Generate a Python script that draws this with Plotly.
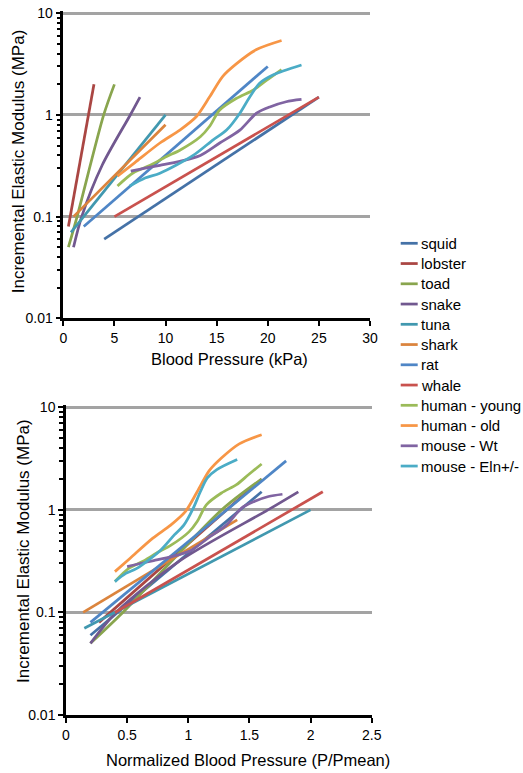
import plotly.graph_objects as go

# ---------------- data ----------------
series_names = ["squid", "lobster", "toad", "snake", "tuna", "shark", "rat", "whale",
                "human - young", "human - old", "mouse - Wt", "mouse - Eln+/-"]

squid_p = [4, 25]
squid_e = [0.06, 1.5]
lobster_p = [0.5, 3]
lobster_e = [0.08, 2.0]
toad_p = [0.5, 1.35, 3.95, 5]
toad_e = [0.05, 0.1, 1.0, 2.0]
snake_p = [1.0, 1.8, 3.8, 6.55, 7.5]
snake_e = [0.05, 0.1, 0.32, 1.0, 1.5]
tuna_p = [0.75, 10]
tuna_e = [0.07, 1.0]
shark_p = [1, 10]
shark_e = [0.1, 0.8]
rat_p = [2, 20]
rat_e = [0.08, 3.0]
whale_p = [5, 25]
whale_e = [0.1, 1.5]
human_young_p = [5.3, 6.85, 8.5, 10.1, 11.4, 13.4, 14.3, 15.3, 16.95, 18.6, 19.9, 21.35]
human_young_e = [0.2, 0.27, 0.32, 0.39, 0.45, 0.61, 0.77, 1.12, 1.46, 1.76, 2.2, 2.8]
human_old_p = [5.3, 7, 9.45, 11.4, 13.0, 14.3, 15.6, 16.95, 18.9, 21.35]
human_old_e = [0.25, 0.34, 0.53, 0.71, 0.96, 1.5, 2.4, 3.2, 4.4, 5.4]
mouse_wt_p = [6.6, 8, 9.45, 11.4, 13.4, 15.3, 17.27, 18.9, 20.2, 21.8, 23.3]
mouse_wt_e = [0.28, 0.3, 0.32, 0.35, 0.40, 0.53, 0.71, 1.04, 1.2, 1.35, 1.42]
mouse_eln_p = [6.5, 8, 9.45, 12.7, 14.66, 15.97, 17.27, 18.25, 19.2, 20.5, 23.3]
mouse_eln_e = [0.2, 0.24, 0.267, 0.40, 0.57, 0.71, 1.04, 1.51, 2.05, 2.47, 3.1]

pressures = [squid_p, lobster_p, toad_p, snake_p, tuna_p, shark_p, rat_p, whale_p,
             human_young_p, human_old_p, mouse_wt_p, mouse_eln_p]
moduli = [squid_e, lobster_e, toad_e, snake_e, tuna_e, shark_e, rat_e, whale_e,
          human_young_e, human_old_e, mouse_wt_e, mouse_eln_e]

# normalized pressure range (P/Pmean) of each curve in the lower chart
norm_start = [0.2, 0.27, 0.2, 0.2, 0.15, 0.14, 0.2, 0.4, 0.4, 0.4, 0.5, 0.4]
norm_end = [1.6, 1.6, 1.6, 1.9, 2.0, 1.4, 1.8, 2.1, 1.6, 1.6, 1.77, 1.4]

colors = ["#4572A7", "#AA4643", "#89A54E", "#71588F", "#4198AF", "#DB843D",
          "#4F86C6", "#C9524E", "#9BBB59", "#F79646", "#8064A2", "#4BACC6"]

x1_ticks = [0, 5, 10, 15, 20, 25, 30]
x2_ticks = [0, 0.5, 1, 1.5, 2, 2.5]
y_ticks = [0.01, 0.1, 1, 10]
y_tick_text = ["0.01", "0.1", "1", "10"]

# ---------------- figure ----------------
fig = go.Figure()
W, H = 523, 773
FONT = "Liberation Sans, Arial, Helvetica, sans-serif"

for i, name in enumerate(series_names):
    p = pressures[i]
    e = moduli[i]
    shape = "spline" if len(p) > 2 else "linear"
    fig.add_trace(go.Scatter(
        x=p, y=e, mode="lines", name=name, legendgroup=name,
        line=dict(color=colors[i], width=2.75, shape=shape, smoothing=0.8),
        xaxis="x", yaxis="y", showlegend=False))

for i, name in enumerate(series_names):
    p = pressures[i]
    e = moduli[i]
    p0, p1 = p[0], p[-1]
    xn = [norm_start[i] + (v - p0) / (p1 - p0) * (norm_end[i] - norm_start[i]) for v in p]
    shape = "spline" if len(p) > 2 else "linear"
    fig.add_trace(go.Scatter(
        x=xn, y=e, mode="lines", name=name, legendgroup=name,
        line=dict(color=colors[i], width=2.75, shape=shape, smoothing=0.8),
        xaxis="x2", yaxis="y2", showlegend=False))

def px_x(v):
    return v / W

def px_y(v):
    return 1 - v / H

TOP_PAD = 0.025            # a little room above the 10 MPa gridline
DEC1 = (318.3 - 13.3) / 3  # px per decade, upper chart
DEC2 = (715 - 407.3) / 3   # px per decade, lower chart

common_x = dict(showgrid=False, zeroline=False, showline=True, linecolor="black",
                linewidth=2.5, ticks="outside", ticklen=5, tickwidth=1.5,
                tickcolor="black", tickfont=dict(size=14, color="black", family=FONT))
common_y = dict(type="log", range=[-2, 1 + TOP_PAD], showgrid=True, gridcolor="#a3a3a3",
                gridwidth=2.5, zeroline=False, showline=True, linecolor="black",
                linewidth=2.5, ticks="outside", ticklen=5, tickwidth=1.5,
                tickcolor="black", tickvals=y_ticks, ticktext=y_tick_text,
                tickfont=dict(size=14, color="black", family=FONT),
                minor=dict(ticks="outside", ticklen=4, tickwidth=1.5,
                           tickcolor="black", showgrid=False, dtick="D1"))

# manual legend (short line sample + label, like the original)
shapes = []
annotations = []
LEG_Y0, LEG_DY = 243.3, 20.25
for i, name in enumerate(series_names):
    yy = px_y(LEG_Y0 + i * LEG_DY)
    shapes.append(dict(type="line", xref="paper", yref="paper",
                       x0=px_x(400.7), x1=px_x(417.7), y0=yy, y1=yy,
                       line=dict(color=colors[i], width=2.75)))
    annotations.append(dict(text=name, x=px_x(418.5), y=yy, xref="paper", yref="paper",
                            xanchor="left", yanchor="middle", showarrow=False,
                            font=dict(size=15, color="black", family=FONT)))

annotations += [
    dict(text="Blood Pressure (kPa)", x=px_x(229.5), y=px_y(359), xref="paper",
         yref="paper", xanchor="center", yanchor="middle", showarrow=False,
         font=dict(size=16.5)),
    dict(text="Incremental Elastic Modulus (MPa)", x=px_x(18.3), y=px_y(161),
         xref="paper", yref="paper", xanchor="center", yanchor="middle",
         showarrow=False, textangle=-90, font=dict(size=17)),
    dict(text="Normalized Blood Pressure (P/Pmean)", x=px_x(248), y=px_y(760),
         xref="paper", yref="paper", xanchor="center", yanchor="middle",
         showarrow=False, font=dict(size=16.5)),
    dict(text="Incremental Elastic Modulus (MPa)", x=px_x(23), y=px_y(551),
         xref="paper", yref="paper", xanchor="center", yanchor="middle",
         showarrow=False, textangle=-90, font=dict(size=17)),
]

fig.update_layout(
    width=W, height=H,
    margin=dict(l=0, r=0, t=0, b=0, autoexpand=False),
    paper_bgcolor="white", plot_bgcolor="white",
    font=dict(family=FONT, color="black"),
    showlegend=False,
    xaxis=dict(domain=[px_x(63.3), px_x(370)], range=[0, 30], tickvals=x1_ticks,
               anchor="y", **common_x),
    yaxis=dict(domain=[px_y(318.3), px_y(13.3 - TOP_PAD * DEC1)], anchor="x", **common_y),
    xaxis2=dict(domain=[px_x(66), px_x(371.7)], range=[0, 2.5], tickvals=x2_ticks,
                anchor="y2", **common_x),
    yaxis2=dict(domain=[px_y(715), px_y(407.3 - TOP_PAD * DEC2)], anchor="x2", **common_y),
    shapes=shapes,
    annotations=annotations,
)

fig.write_html("out.html", config={"displayModeBar": False},
               post_script="document.body.style.margin='0px';document.body.style.overflow='hidden';")
